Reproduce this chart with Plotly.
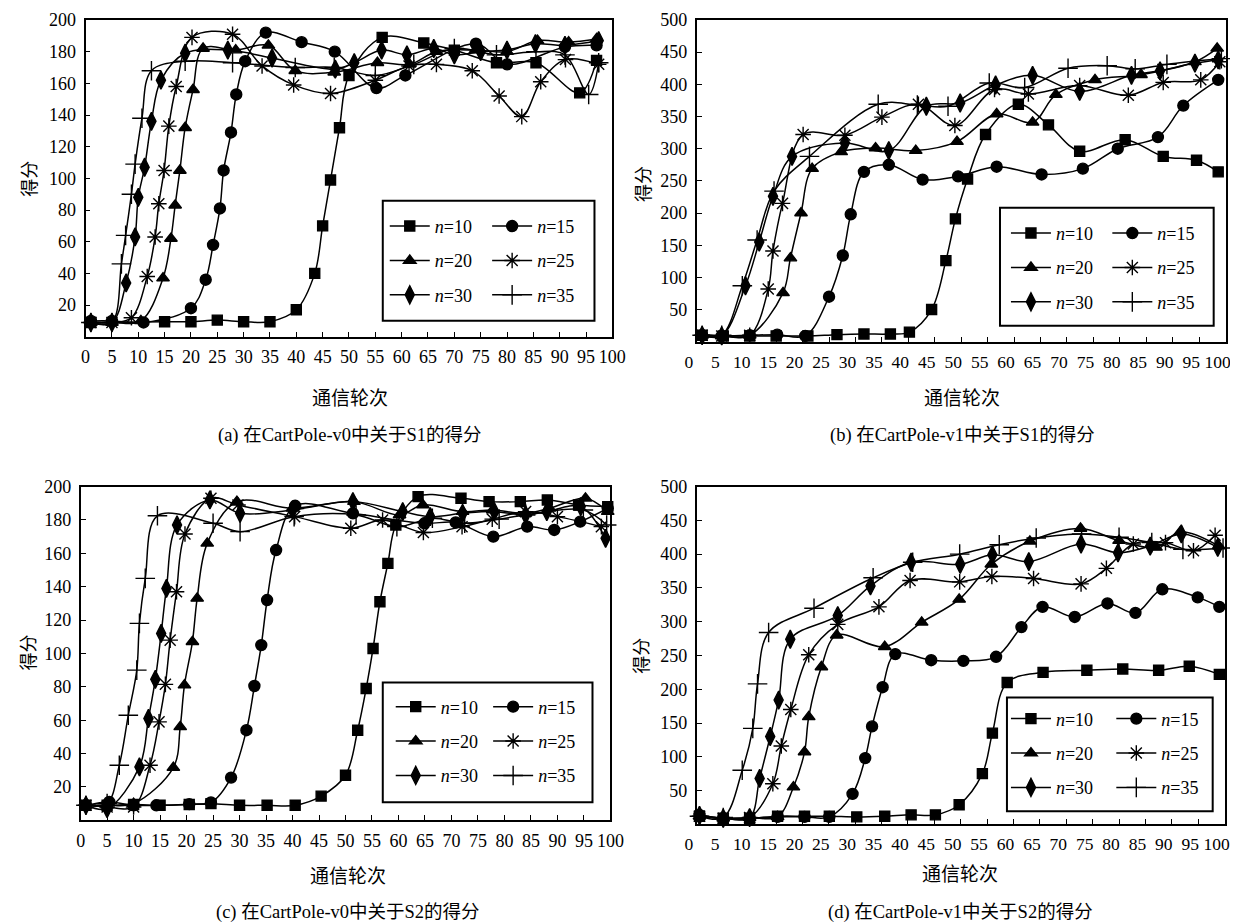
import plotly.graph_objects as go

W, H = 1238, 923

# ---------------- text / ticks ----------------
SERIES_NAMES = ["<i>n</i>=10", "<i>n</i>=15", "<i>n</i>=20", "<i>n</i>=25", "<i>n</i>=30", "<i>n</i>=35"]
X_TICKS = list(range(0, 101, 5))
Y_TICKS_V0 = list(range(20, 201, 20))
Y_TICKS_V1 = list(range(50, 501, 50))
X_TITLE = "通信轮次"
Y_TITLE = "得分"
CAPTIONS = ["(a) 在CartPole-v0中关于S1的得分", "(b) 在CartPole-v1中关于S1的得分",
            "(c) 在CartPole-v0中关于S2的得分", "(d) 在CartPole-v1中关于S2的得分"]

# ---------------- panel (a): CartPole-v0, S1 ----------------
A_X10 = [1, 15, 20, 25, 30, 35, 40, 43.5, 45, 46.5, 48.2, 50, 56.3, 64.2, 70, 78, 85.5, 93.8, 97]
A_Y10 = [9, 9.5, 9.5, 10.5, 9.5, 9.5, 17, 40, 70, 99, 132, 165, 189, 185.5, 181, 173, 173, 154, 174.5]
A_X15 = [1, 5, 11, 20, 22.8, 24.2, 25.5, 26.2, 27.6, 28.6, 30.3, 34.2, 41, 47.3, 55.2, 60.7, 74.1, 80, 91, 97]
A_Y15 = [10, 10, 9, 18, 36, 58, 81, 105, 129, 153, 174, 192, 186, 180, 157, 165, 185, 172, 183, 184]
A_X20 = [1, 5, 10.5, 14.7, 16.2, 17, 17.9, 18.9, 20.4, 22.3, 28.5, 34.7, 39.8, 47.2, 55.4, 61.5, 66.6, 74, 80, 85.8, 91.7, 97]
A_Y20 = [9, 9, 10, 37, 62, 83, 105, 132, 156, 182, 181, 184, 168, 167, 173, 172, 180, 181, 180, 187, 186, 188]
A_X25 = [1, 5, 8.7, 11.7, 13.2, 13.9, 14.9, 15.8, 17.2, 20.2, 27.9, 33.5, 39.5, 46.5, 55, 61.4, 66.6, 73.4, 78.5, 82.8, 86.4, 91.1, 97.4]
A_Y25 = [9, 9, 12, 38, 63, 84, 105, 133, 158, 189, 191, 171, 159, 153.6, 162, 171, 172, 168, 152, 139, 161, 175, 172]
A_X30 = [1, 5, 7.7, 9.4, 10, 11.2, 12.5, 14.3, 18.9, 27, 35.4, 47.4, 51, 56.2, 61, 66.1, 70, 75, 80, 85.4, 91, 97.4]
A_Y30 = [9, 9, 34, 63, 88, 107, 136, 162, 179, 181, 176, 169, 173, 181, 178, 182, 178, 180, 181, 185, 184, 187]
A_X35 = [1, 5, 6.8, 7.6, 8.7, 9.4, 10.7, 12.5, 18.9, 27.9, 39.8, 47.2, 55, 62.3, 70, 78, 85.5, 91, 95.5, 97.4]
A_Y35 = [9, 9, 46, 64, 90, 109, 138, 168, 174, 173, 170, 170, 165, 172, 182, 178, 180, 178, 153, 173]

# ---------------- panel (b): CartPole-v1, S1 ----------------
B_X10 = [1, 5, 10, 15, 21, 26.5, 31.6, 36.6, 40.2, 44.4, 47.1, 48.9, 51.2, 54.6, 60.8, 66.5, 72.4, 81, 88.2, 94.5, 98.6]
B_Y10 = [10, 9, 9, 9, 9, 11, 12, 12, 15, 50, 126, 191, 253, 322, 369, 337, 296, 314, 288, 282, 264]
B_X15 = [1, 4.7, 10, 15.2, 20.5, 25, 27.6, 29.1, 31.6, 36.3, 42.7, 49.4, 56.7, 65.2, 73, 79.6, 87.2, 92, 98.6]
B_Y15 = [10, 9, 10, 11, 9, 70, 134, 198, 264, 275, 252, 257, 272, 260, 269, 300, 318, 367, 407]
B_X20 = [1, 4.7, 10, 16.3, 17.7, 19.7, 21.8, 27.3, 33.8, 41.4, 49.2, 56.7, 63.5, 67.9, 75.3, 84, 94.2, 98.4]
B_Y20 = [10, 9, 10, 76, 130, 200, 269, 295, 301, 297, 311, 354, 341, 384, 407, 415, 435, 456]
B_X25 = [1, 4.7, 10, 13.5, 14.4, 16.2, 20.1, 28, 35, 41.9, 48.8, 56.3, 62.7, 72.4, 81.6, 88.2, 95.3, 98.9]
B_Y25 = [10, 9, 10, 82, 141, 215, 322, 321, 349, 369, 336, 392, 385, 398, 383, 403, 407, 435]
B_X30 = [1, 4.7, 9.2, 11.8, 14.4, 18, 28, 36.3, 43.4, 49.8, 56.5, 63.5, 72.4, 82.2, 87.6, 94.2, 98.6]
B_Y30 = [10, 9, 87, 155, 226, 288, 309, 297, 366, 371, 399, 414, 389, 414, 421, 433, 438]
B_X35 = [1, 4.7, 8.6, 11.4, 14.6, 21.3, 34.3, 41.7, 47.5, 55.3, 62, 70.2, 77.6, 82.9, 88.9, 99.2]
B_Y35 = [10, 10, 87, 158, 234, 288, 369, 368, 366, 402, 395, 425, 429, 424, 431, 440]

# ---------------- panel (c): CartPole-v0, S2 ----------------
C_X10 = [1, 5, 10, 15, 20.5, 24.6, 30, 35.2, 40.5, 45.4, 50, 52.3, 53.9, 55.2, 56.5, 58, 59.5, 63.7, 71.8, 77.1, 83, 88.1, 94, 99.5]
C_Y10 = [9, 9, 9.5, 9, 9.5, 10, 9, 9, 9, 14.5, 27, 54, 79, 103, 131, 154, 177, 194, 193, 191, 191, 192, 189, 188]
C_X15 = [1, 5.4, 10, 14.3, 20.5, 24.6, 28.4, 31.3, 32.8, 34.1, 35.2, 36.9, 40.5, 51.4, 64.9, 70.8, 77.9, 84.3, 89.4, 94.3, 99.5]
C_Y15 = [9, 11, 9, 9, 9.7, 10.7, 25.6, 54, 80.5, 105, 132, 162, 188.5, 184, 178, 178.5, 170, 176, 174, 179, 187]
C_X20 = [1, 5, 10, 17.5, 18.8, 19.6, 21.1, 22, 23.9, 29.5, 40, 51.6, 60.2, 64.6, 72.1, 77.8, 84, 88.5, 95.3, 99.5]
C_Y20 = [9, 9, 10, 31.6, 56, 81, 107, 133, 166, 191, 187, 191, 183, 189, 185, 186, 184, 187, 193, 185]
C_X25 = [1, 5, 10, 13.1, 14.8, 16, 16.9, 18.1, 19.7, 24.6, 29.7, 40.4, 51, 57, 64.7, 72, 77.7, 84, 90, 98.3]
C_Y25 = [9, 8, 8, 33, 59, 81.5, 108, 137, 171.6, 193, 189, 182, 175, 180, 172.5, 176, 180.5, 185, 182, 176]
C_X30 = [1, 5, 11.1, 12.8, 14.1, 15.2, 16.2, 18.2, 24.4, 30.1, 40, 51.4, 60.8, 66, 72.1, 78.1, 84, 88, 94.4, 99.1]
C_Y30 = [9, 7, 32, 61, 84.5, 112, 139, 177, 192, 184, 186, 191, 185, 182, 184, 185, 183, 185, 188, 169]
C_X35 = [1, 5, 7.3, 9, 10.6, 11.1, 12.2, 14.5, 25, 30.1, 40.3, 52, 59.7, 66.4, 72.5, 79, 84, 94.9, 99.3]
C_Y35 = [9, 10, 33, 63, 90, 118, 145, 182.5, 178, 173, 182, 183, 176, 181, 178, 180.5, 183, 186, 177]

# ---------------- panel (d): CartPole-v1, S2 ----------------
D_X10 = [0.5, 5, 10, 15.3, 20.4, 25.1, 30.3, 35.6, 40.6, 45.2, 49.7, 54.1, 56, 58.8, 65.6, 73.9, 80.7, 87.5, 93.3, 99]
D_Y10 = [12, 9, 9, 12, 12, 12, 11, 12, 14, 14, 29, 75, 135, 210, 225, 228, 230, 228, 234, 222]
D_X15 = [0.5, 5, 10, 15.3, 20.4, 25.1, 29.5, 31.9, 33.2, 35.2, 37.6, 44.4, 50.5, 56.7, 61.5, 65.5, 71.6, 77.8, 83.1, 88.2, 94.9, 99]
D_Y15 = [14, 9, 9, 11, 11, 11, 45, 98, 145, 203, 252, 243, 242, 248, 292, 322, 307, 327, 313, 348, 336, 322]
D_X20 = [0.5, 5, 10, 15.3, 18.3, 20.4, 21.2, 23.6, 26.5, 35.6, 42.6, 49.7, 55.8, 63.1, 72.7, 80, 87, 91.6, 98.9]
D_Y20 = [12, 9, 10, 11, 55, 107, 159, 233, 280, 263, 299, 333, 385, 419, 438, 420, 410, 433, 412]
D_X25 = [0.5, 5, 10, 14.4, 16, 17.8, 21.2, 26.7, 34.5, 40.4, 49.8, 55.9, 63.8, 72.8, 77.6, 82.7, 88.8, 94.1, 98.2]
D_Y25 = [12, 9, 10, 60, 116, 170, 251, 296, 322, 361, 359, 367, 364, 356, 379, 415, 417, 405, 428]
D_X30 = [0.5, 5, 10, 11.9, 13.9, 15.5, 17.7, 26.7, 32.9, 40.6, 49.9, 56, 62.9, 72.8, 79.8, 85.9, 91.8, 98.7]
D_Y30 = [13, 9, 10, 68, 130, 184, 274, 309, 353, 388, 385, 399, 389, 415, 402, 412, 430, 410]
D_X35 = [0.5, 5, 8.6, 10.6, 11.5, 13.6, 22.2, 33.4, 40.9, 49.8, 57.3, 64.3, 72.9, 80, 86.2, 92.1, 99.7]
D_Y35 = [12, 10, 80, 142, 208, 284, 320, 365, 388, 400, 414, 424, 430, 425, 417, 407, 409]

PANELS = [
    ([A_X10, A_X15, A_X20, A_X25, A_X30, A_X35], [A_Y10, A_Y15, A_Y20, A_Y25, A_Y30, A_Y35], 200, Y_TICKS_V0),
    ([B_X10, B_X15, B_X20, B_X25, B_X30, B_X35], [B_Y10, B_Y15, B_Y20, B_Y25, B_Y30, B_Y35], 500, Y_TICKS_V1),
    ([C_X10, C_X15, C_X20, C_X25, C_X30, C_X35], [C_Y10, C_Y15, C_Y20, C_Y25, C_Y30, C_Y35], 200, Y_TICKS_V0),
    ([D_X10, D_X15, D_X20, D_X25, D_X30, D_X35], [D_Y10, D_Y15, D_Y20, D_Y25, D_Y30, D_Y35], 500, Y_TICKS_V1),
]

# ---------------- styling / layout (target pixels in the reference picture) ----------------
SYMBOLS = ["square", "circle", "triangle-up", "asterisk-open", "diamond-tall", "cross-thin-open"]
SIZES = [10, 11, 11, 13, 13, 14]
FRAMES = [(76, 606, 19, 336), (691, 1223, 19, 341), (71, 604, 486, 820), (691, 1222, 486, 824)]
XLABEL_SHIFT = [0, -8, 0, -8]
XLABEL_SIZE = [18, 17.5, 18, 17.5]
# legend: col1 left, col2 left, first-row centre, box (x0, y0, x1, y1)
LEGENDS = [(377, 480, 224, (375, 200, 588, 320)),
           (1002, 1104, 231, (996, 207, 1211, 325)),
           (383, 481, 705, (375, 682, 586, 802)),
           (1002, 1108, 717, (1003, 697, 1210, 811))]
YTITLE_POS = [(18, 178), (636, 183), (18, 652), (634, 655)]
XTITLE_POS = [(342, 396), (958, 396), (340, 874), (956, 872)]
CAPTION_POS = [(342, 435), (958, 435), (340, 912), (956, 912)]

SERIF = "Liberation Serif, Times New Roman, Noto Sans CJK SC, serif"
CJK = "Noto Sans CJK SC, sans-serif"

# the page is photographed with a small offset/scale; compensate so marks land on target pixels
OFF_X, SC_X = 10.0, 0.985
OFF_Y, SC_Y = 17.0, 0.99


def px(x):
    return ((x - OFF_X) / SC_X) / W


def py(y):
    return 1 - ((y - OFF_Y) / SC_Y) / H


fig = go.Figure()
layout = dict(width=W, height=H, margin=dict(l=0, r=0, t=0, b=0),
              paper_bgcolor="white", plot_bgcolor="white", showlegend=True)
shapes, annotations = [], []

for p, (xs, ys, ymax, yticks) in enumerate(PANELS):
    xa = "x" if p == 0 else f"x{p + 1}"
    ya = "y" if p == 0 else f"y{p + 1}"
    xkey = "xaxis" if p == 0 else f"xaxis{p + 1}"
    ykey = "yaxis" if p == 0 else f"yaxis{p + 1}"
    l, r, t, b = FRAMES[p]
    layout[xkey] = dict(domain=[px(l), px(r)], anchor=ya, range=[0, 100], tickmode="array",
                        tickvals=X_TICKS, ticktext=[str(v) for v in X_TICKS], ticks="inside",
                        ticklen=5, tickwidth=1.3, tickcolor="black", showline=True, linecolor="black",
                        linewidth=1.8, mirror=True, showgrid=False, zeroline=False,
                        tickfont=dict(family=SERIF, size=XLABEL_SIZE[p], color="black"),
                        ticklabelstandoff=3, ticklabelshift=XLABEL_SHIFT[p])
    layout[ykey] = dict(domain=[py(b), py(t)], anchor=xa, range=[0, ymax], tickmode="array",
                        tickvals=yticks, ticktext=[str(v) for v in yticks], ticks="inside",
                        ticklen=5, tickwidth=1.3, tickcolor="black", showline=True, linecolor="black",
                        linewidth=1.8, mirror=True, showgrid=False, zeroline=False,
                        tickfont=dict(family=SERIF, size=18, color="black"), ticklabelstandoff=4)

    c1, c2, row1, box = LEGENDS[p]
    leg1 = "legend" if p == 0 else f"legend{2 * p + 1}"
    leg2 = f"legend{2 * p + 2}"
    for k, lg, left in ((0, leg1, c1), (1, leg2, c2)):
        layout[lg] = dict(x=px(left), xanchor="left", y=py(row1 - 17), yanchor="top",
                          bgcolor="rgba(0,0,0,0)", borderwidth=0, itemwidth=40,
                          tracegroupgap=8, font=dict(family=SERIF, size=18, color="black"),
                          orientation="v", itemclick=False)
    for i in range(6):
        fig.add_trace(go.Scatter(
            x=xs[i], y=ys[i], xaxis=xa, yaxis=ya, name=SERIES_NAMES[i],
            mode="lines+markers", line=dict(color="black", width=1.5, shape="spline", smoothing=1.0),
            marker=dict(symbol=SYMBOLS[i], size=SIZES[i], color="black",
                        line=dict(color="black", width=1.4)),
            cliponaxis=False,
            legend=leg1 if i % 2 == 0 else leg2, legendgroup=f"p{p}s{i}", showlegend=True,
        ))
    bx0, by0, bx1, by1 = box
    shapes.append(dict(type="rect", xref="paper", yref="paper", x0=px(bx0), x1=px(bx1),
                       y0=py(by1), y1=py(by0), line=dict(color="black", width=2), fillcolor="rgba(0,0,0,0)"))
    yx, yy = YTITLE_POS[p]
    annotations.append(dict(text=Y_TITLE, x=px(yx), y=py(yy), xref="paper", yref="paper",
                            showarrow=False, textangle=-90, font=dict(family=CJK, size=18, color="black"),
                            xanchor="center", yanchor="middle"))
    tx, ty = XTITLE_POS[p]
    annotations.append(dict(text=X_TITLE, x=px(tx), y=py(ty), xref="paper", yref="paper",
                            showarrow=False, font=dict(family=CJK, size=19, color="black"),
                            xanchor="center", yanchor="middle"))
    cx, cy = CAPTION_POS[p]
    annotations.append(dict(text=CAPTIONS[p], x=px(cx), y=py(cy), xref="paper", yref="paper",
                            showarrow=False, font=dict(family=SERIF, size=18.5, color="black"),
                            xanchor="center", yanchor="middle"))

layout["shapes"] = shapes
layout["annotations"] = annotations
fig.update_layout(**layout)
fig.write_html("out.html")
